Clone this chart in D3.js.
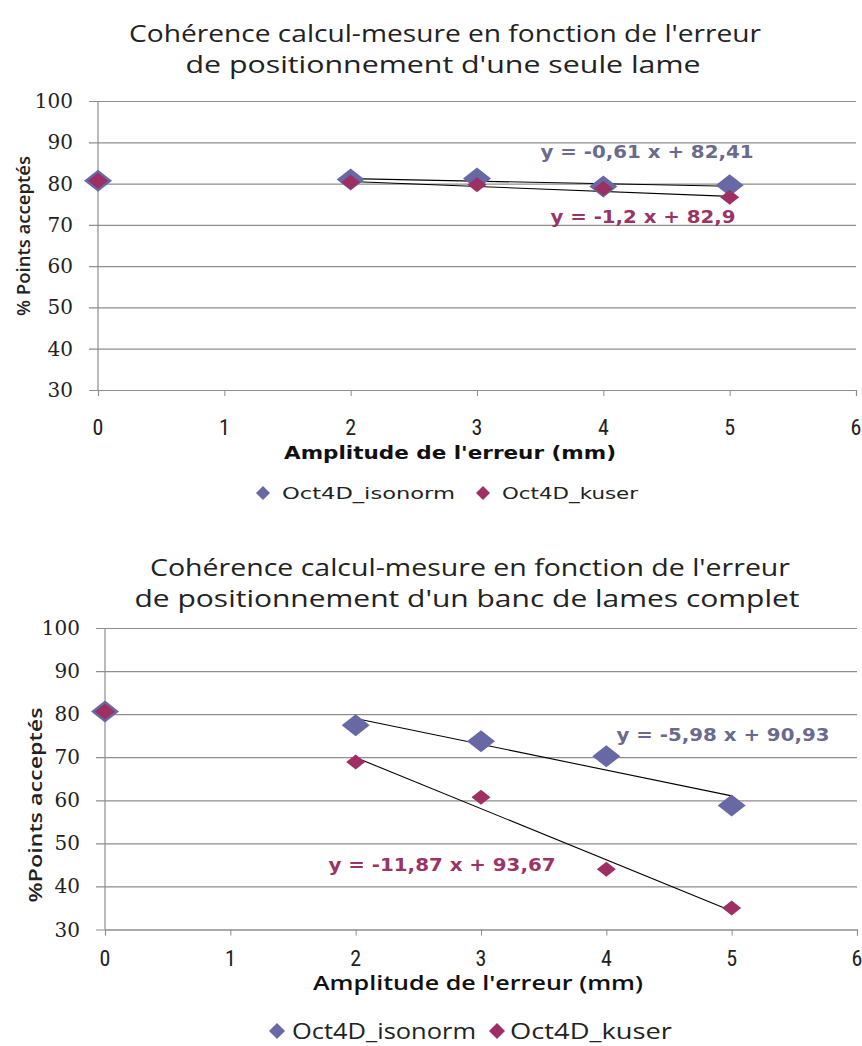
<!DOCTYPE html>
<html><head><meta charset="utf-8">
<script src="https://cdn.jsdelivr.net/npm/d3@7"></script>
<style>
html,body{margin:0;padding:0;background:#fff;}
svg{display:block;}
</style></head>
<body>
<svg id="chart" width="862" height="1046"></svg>
<script>
// ---------- DATA ----------
const xTickValues = [0, 1, 2, 3, 4, 5, 6];
const yTickValues = [30, 40, 50, 60, 70, 80, 90, 100];
const seriesNames = ["Oct4D_isonorm", "Oct4D_kuser"];

// Top chart: single leaf error
const topTitle = ["Cohérence calcul-mesure en fonction de l'erreur", "de positionnement d'une seule lame"];
const topYLabel = "% Points acceptés";
const topErr = [2, 3, 4, 5];
const topIso = [81.0, 81.2, 79.3, 79.6];
const topKuser = [80.3, 79.7, 78.8, 76.7];
const topRef = [0, 80.7];
const topTrendIso = [-0.61, 82.41];
const topTrendKuser = [-1.2, 82.9];
const topEqIso = "y = -0,61 x + 82,41";
const topEqKuser = "y = -1,2 x + 82,9";

// Bottom chart: full leaf bank error
const botTitle = ["Cohérence calcul-mesure en fonction de l'erreur", "de positionnement d'un banc de lames complet"];
const botYLabel = "%Points acceptés";
const botErr = [2, 3, 4, 5];
const botIso = [77.4, 73.7, 70.2, 58.8];
const botKuser = [68.9, 60.7, 44.0, 35.0];
const botRef = [0, 80.6];
const botTrendIso = [-5.98, 90.93];
const botTrendKuser = [-11.87, 93.67];
const botEqIso = "y = -5,98 x + 90,93";
const botEqKuser = "y = -11,87 x + 93,67";

const xLabel = "Amplitude de l'erreur (mm)";

// ---------- STYLE ----------
const ISO = "#6868a4", KUS = "#9e2f63";
const ISO_TXT = "#6a6a8c", KUS_TXT = "#9a3466";
const GRID = "#8e8e8e";
const NARROW = "'Liberation Sans Narrow','Roboto Condensed','Liberation Sans',sans-serif";
const OPEN = "'Open Sans','Noto Sans',sans-serif";
const SERIF = "'DejaVu Serif','Liberation Serif',serif";
const VERD = "'DejaVu Sans','Verdana',sans-serif";

const svg = d3.select("#chart");

function diamond(w, h) { return `M0,${-h}L${w},0L0,${h}L${-w},0Z`; }

function fitText(sel, len) {
  if (len) sel.attr("textLength", len).attr("lengthAdjust", "spacingAndGlyphs");
  return sel;
}

function drawChart(cfg) {
  const g = svg.append("g");
  const x = d3.scaleLinear().domain([0, 6]).range([cfg.x0, cfg.x1]);
  const y = d3.scaleLinear().domain([30, 100]).range([cfg.yBot, cfg.yTop]);

  // titles
  cfg.title.forEach((t, i) => {
    fitText(g.append("text").attr("x", cfg.titleX[i]).attr("y", cfg.titleY[i])
      .attr("text-anchor", "middle").attr("dominant-baseline", "central")
      .attr("font-family", OPEN).attr("font-size", cfg.titleSize).attr("fill", "#222")
      .text(t), cfg.titleLen[i]);
  });

  // gridlines + y ticks
  const yAxis = d3.axisLeft(y).tickValues(yTickValues).tickSize(-(cfg.x1 - cfg.x0)).tickPadding(0).tickFormat("");
  const ya = g.append("g").attr("transform", `translate(${cfg.x0},0)`).call(yAxis);
  ya.select(".domain").remove();
  ya.selectAll(".tick line").attr("stroke", GRID).attr("stroke-width", 1.2).attr("x1", -9);

  // y tick labels
  g.selectAll(".ylab").data(yTickValues).enter().append("text")
    .attr("x", cfg.yLabRight).attr("y", d => y(d)).attr("text-anchor", "end")
    .attr("dominant-baseline", "central").attr("font-family", SERIF)
    .attr("font-size", cfg.yTickSize).attr("fill", "#222").text(d => d);

  // y axis line
  g.append("line").attr("x1", cfg.x0).attr("x2", cfg.x0).attr("y1", cfg.yTop).attr("y2", cfg.yBot)
    .attr("stroke", GRID).attr("stroke-width", 1.2);

  // x axis
  const xAxis = d3.axisBottom(x).tickValues(xTickValues).tickSize(6).tickFormat("");
  const xa = g.append("g").attr("transform", `translate(0,${cfg.yBot})`).call(xAxis);
  xa.select(".domain").attr("stroke", GRID).attr("stroke-width", 1.2);
  xa.selectAll(".tick line").attr("stroke", GRID);
  g.selectAll(".xlab").data(xTickValues).enter().append("text")
    .attr("x", d => x(d)).attr("y", cfg.xLabY).attr("text-anchor", "middle")
    .attr("dominant-baseline", "central").attr("font-family", NARROW)
    .attr("font-size", cfg.xTickSize).attr("fill", "#222").text(d => d);

  // axis titles
  fitText(g.append("text").attr("x", cfg.xTitleX).attr("y", cfg.xTitleY).attr("text-anchor", "middle")
    .attr("dominant-baseline", "central").attr("font-family", cfg.xTitleFont)
    .attr("font-weight", cfg.xTitleWeight).attr("font-size", cfg.xTitleSize).attr("fill", "#111")
    .text(xLabel), cfg.xTitleLen);
  fitText(g.append("text").attr("transform", `translate(${cfg.yTitleX},${cfg.yTitleY}) rotate(-90)`)
    .attr("text-anchor", "middle").attr("dominant-baseline", "central")
    .attr("font-family", OPEN).attr("font-weight", 600).attr("font-size", cfg.yTitleSize)
    .attr("fill", "#222").text(cfg.yLabel), cfg.yTitleLen);

  // trendlines
  const tl = (c) => [[2, c[0] * 2 + c[1]], [5, c[0] * 5 + c[1]]];
  const line = d3.line().x(d => x(d[0])).y(d => y(d[1]));
  [cfg.trendIso, cfg.trendKuser].forEach(c => {
    g.append("path").attr("d", line(tl(c))).attr("fill", "none")
      .attr("stroke", "#000").attr("stroke-width", 1.1);
  });

  // reference point (x = 0)
  g.append("path").attr("d", diamond(14, 11))
    .attr("transform", `translate(${x(cfg.ref[0])},${y(cfg.ref[1])})`).attr("fill", ISO);
  g.append("path").attr("d", diamond(10, 8))
    .attr("transform", `translate(${x(cfg.ref[0])},${y(cfg.ref[1])})`).attr("fill", KUS);

  // series markers
  g.selectAll(".iso").data(cfg.err.map((e, i) => [e, cfg.iso[i]])).enter().append("path")
    .attr("d", diamond(14, 11)).attr("fill", ISO)
    .attr("transform", d => `translate(${x(d[0])},${y(d[1])})`);
  g.selectAll(".kus").data(cfg.err.map((e, i) => [e, cfg.kuser[i]])).enter().append("path")
    .attr("d", diamond(9.5, 7.5)).attr("fill", KUS)
    .attr("transform", d => `translate(${x(d[0])},${y(d[1])})`);

  // equations
  fitText(g.append("text").attr("x", cfg.eqIso[0]).attr("y", cfg.eqIso[1]).attr("text-anchor", "middle")
    .attr("dominant-baseline", "central").attr("font-family", VERD).attr("font-weight", "bold")
    .attr("font-size", cfg.eqSize).attr("fill", ISO_TXT).text(cfg.eqIsoText), cfg.eqIsoLen);
  fitText(g.append("text").attr("x", cfg.eqKuser[0]).attr("y", cfg.eqKuser[1]).attr("text-anchor", "middle")
    .attr("dominant-baseline", "central").attr("font-family", VERD).attr("font-weight", "bold")
    .attr("font-size", cfg.eqSize).attr("fill", KUS_TXT).text(cfg.eqKuserText), cfg.eqKuserLen);

  // legend
  const colors = [ISO, KUS];
  seriesNames.forEach((n, i) => {
    g.append("path").attr("d", diamond(cfg.legendMark, cfg.legendMark))
      .attr("transform", `translate(${cfg.legend[i]},${cfg.legendY})`).attr("fill", colors[i]);
    fitText(g.append("text").attr("x", cfg.legendText[i]).attr("y", cfg.legendY)
      .attr("dominant-baseline", "central").attr("font-family", cfg.legendFont)
      .attr("font-size", cfg.legendSize).attr("fill", "#222").text(n), cfg.legendLen[i]);
  });
}

drawChart({
  title: topTitle, titleX: [445, 443], titleY: [32, 63], titleSize: 24, titleLen: [632, 515],
  x0: 98, x1: 856, yTop: 101, yBot: 390,
  yLabRight: 73, yTickSize: 20, xLabY: 427, xTickSize: 22,
  xTitleX: 450, xTitleY: 452, xTitleSize: 18, xTitleFont: VERD, xTitleWeight: "bold", xTitleLen: 332,
  yTitleX: 23, yTitleY: 236, yTitleSize: 18, yTitleLen: 160, yLabel: topYLabel,
  err: topErr, iso: topIso, kuser: topKuser, ref: topRef,
  trendIso: topTrendIso, trendKuser: topTrendKuser,
  eqIso: [647, 152], eqKuser: [643, 217], eqSize: 17,
  eqIsoLen: 213, eqKuserLen: 185,
  eqIsoText: topEqIso, eqKuserText: topEqKuser,
  legend: [263, 483], legendText: [282, 502], legendLen: [173, 136], legendMark: 7,
  legendY: 493, legendSize: 16, legendFont: VERD
});

drawChart({
  title: botTitle, titleX: [470, 467], titleY: [566, 597], titleSize: 24, titleLen: [640, 665],
  x0: 105, x1: 857, yTop: 628, yBot: 929.5,
  yLabRight: 80, yTickSize: 20, xLabY: 958, xTickSize: 22,
  xTitleX: 478, xTitleY: 982, xTitleSize: 20, xTitleFont: OPEN, xTitleWeight: 600, xTitleLen: 330,
  yTitleX: 35, yTitleY: 805, yTitleSize: 18, yTitleLen: 195, yLabel: botYLabel,
  err: botErr, iso: botIso, kuser: botKuser, ref: botRef,
  trendIso: botTrendIso, trendKuser: botTrendKuser,
  eqIso: [723, 735], eqKuser: [442, 865], eqSize: 17,
  eqIsoLen: 213, eqKuserLen: 227,
  eqIsoText: botEqIso, eqKuserText: botEqKuser,
  legend: [277, 497], legendText: [292, 510], legendLen: [184, 162], legendMark: 8,
  legendY: 1031, legendSize: 21, legendFont: OPEN
});
</script>
</body></html>
